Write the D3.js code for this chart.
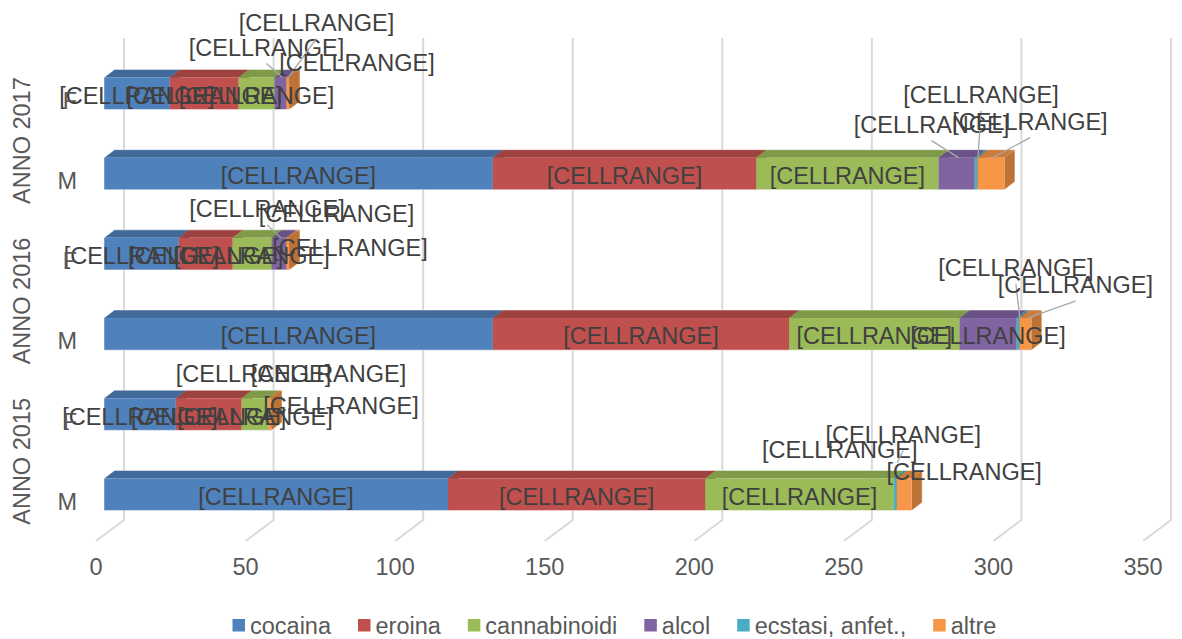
<!DOCTYPE html>
<html>
<head>
<meta charset="utf-8">
<script src="https://cdn.jsdelivr.net/npm/d3@7"></script>
<style>
  html, body { margin: 0; padding: 0; background: #ffffff; }
  svg { display: block; font-family: "Liberation Sans", Arial, sans-serif; }
</style>
</head>
<body>
<svg id="chart" width="1182" height="639"></svg>
<script>
// Categories (top to bottom): year groups, each with F and M rows
const years = ["ANNO 2017", "ANNO 2016", "ANNO 2015"];
const sexes = ["F", "M"];
const seriesNames = ["cocaina", "eroina", "cannabinoidi", "alcol", "ecstasi, anfet.,", "altre"];

// Values per row: 2017 F, 2017 M, 2016 F, 2016 M, 2015 F, 2015 M
const cocaina      = [22, 130, 25, 130, 24, 115];
const eroina       = [23,  88, 18,  99, 22,  86];
const cannabinoidi = [12,  61, 13,  57,  9,  63];
const alcol        = [ 4,  12,  5,  19,  0,   0];
const ecstasi      = [ 0,   1,  0,   1,  0,   1];
const altre        = [ 1,   9,  1,   4,  1,   5];

const xTicks = [0, 50, 100, 150, 200, 250, 300, 350];
const dataLabel = "[CELLRANGE]";

const seriesColors = ["#4f81bd", "#c0504d", "#9bbb59", "#8064a2", "#4bacc6", "#f79646"];

// Placement of the labels of the small segments: [row, series, dx, dy, leader]
// (dx, dy measured from the segment's front-top midpoint); series not listed are centred in the bar
const callouts = [
  [0, 3, -14, -30, true], [0, 4, 30, -55, true], [0, 5, 69, -15, false],
  [1, 3, -25, -33, true], [1, 4, 5, -63, true], [1, 5, 39, -36, true],
  [2, 3, -12, -29, true], [2, 4, 50, -24, false], [2, 5, 62, 10, false],
  [3, 4, -2, -50, true], [3, 5, 50, -33, true],
  [4, 3, -15, -24, false], [4, 4, 60, -24, false], [4, 5, 71, 8, false],
  [5, 3, -54, -29, false], [5, 4, 8, -44, true], [5, 5, 60, -7, false]
];

// ---- build table ----
const seriesValues = [cocaina, eroina, cannabinoidi, alcol, ecstasi, altre];
const rows = [];
years.forEach((yr, gi) => sexes.forEach((sx, si) => rows.push({ id: yr + "|" + sx, year: yr, sex: sx, index: gi * 2 + si })));
const stackInput = rows.map(r => {
  const o = { id: r.id };
  seriesNames.forEach((s, k) => o[s] = seriesValues[k][r.index]);
  return o;
});
const stacked = d3.stack().keys(seriesNames)(stackInput);

const svg = d3.select("#chart");
const fontSize = 23.5;

// front plane of the bars
const x = d3.scaleLinear().domain([0, 350]).range([104, 1151]);
const y = d3.scaleBand().domain(rows.map(r => r.id)).range([53.4, 534.6]);
const barH = y.bandwidth() * 0.4;

// oblique depth offsets
const depth = { dx: 10.5, dy: -8 };          // bar thickness
const wallShift = 20;                        // bar front -> back wall
const floorShift = { dx: -28, dy: 21 };      // back wall -> floor front
const wallTop = 38, wallBottom = 520;

function shade(c, k) { return d3.color(c).darker(k).formatHex(); }

// ---- gridlines on the back wall and floor ----
const grid = svg.append("g");
xTicks.forEach(t => {
  const xb = x(t) + wallShift;
  grid.append("path")
    .attr("d", `M${xb},${wallTop}L${xb},${wallBottom}L${xb + floorShift.dx},${wallBottom + floorShift.dy}`)
    .attr("fill", "none").attr("stroke", "#d9d9d9").attr("stroke-width", 2);
});

// ---- tick labels ----
svg.append("g").selectAll("text").data(xTicks).join("text")
  .attr("x", t => x(t) + wallShift + floorShift.dx)
  .attr("y", 567)
  .attr("dy", "0.35em")
  .attr("text-anchor", "middle")
  .attr("font-size", fontSize)
  .attr("fill", "#595959")
  .text(t => t);

// ---- 3D bars ----
const barsG = svg.append("g");
rows.forEach((r, ri) => {
  const top = y(r.id) + (y.bandwidth() - barH) / 2;
  const bot = top + barH;
  stacked.forEach((layer, k) => {
    const d = layer[ri];
    if (d[1] - d[0] <= 0) return;
    const x0 = x(d[0]), x1 = x(d[1]);
    const col = seriesColors[k];
    const g = barsG.append("g");
    // side face
    g.append("path")
      .attr("d", `M${x1},${top}L${x1 + depth.dx},${top + depth.dy}L${x1 + depth.dx},${bot + depth.dy}L${x1},${bot}Z`)
      .attr("fill", shade(col, 0.75));
    // top face
    g.append("path")
      .attr("d", `M${x0},${top}L${x0 + depth.dx},${top + depth.dy}L${x1 + depth.dx},${top + depth.dy}L${x1},${top}Z`)
      .attr("fill", shade(col, 0.55));
    // front face
    g.append("rect")
      .attr("x", x0).attr("y", top).attr("width", x1 - x0).attr("height", barH)
      .attr("fill", col);
  });
  // light rim around the bar
  const total = stacked[stacked.length - 1][ri][1];
  barsG.append("path")
    .attr("d", `M${x(0)},${bot}L${x(0)},${top}L${x(0) + depth.dx},${top + depth.dy}L${x(total) + depth.dx},${top + depth.dy}L${x(total) + depth.dx},${bot + depth.dy}L${x(total)},${bot}Z`)
    .attr("fill", "none").attr("stroke", "#ffffff").attr("stroke-opacity", 0.45).attr("stroke-width", 1);
});

// ---- data labels ----
const labelsG = svg.append("g");
const calloutKey = new Map(callouts.map(c => [c[0] + "_" + c[1], c]));
rows.forEach((r, ri) => {
  const top = y(r.id) + (y.bandwidth() - barH) / 2;
  const mid = top + barH / 2;
  stacked.forEach((layer, k) => {
    const d = layer[ri];
    const xm = (x(d[0]) + x(d[1])) / 2;
    const c = calloutKey.get(ri + "_" + k);
    let lx = xm, ly = mid + 2;
    if (c) {
      lx = xm + c[2];
      ly = top + c[3];
      if (c[4]) {
        const endY = (ri === 5) ? top - 16 : top;
        labelsG.append("line")
          .attr("x1", lx).attr("y1", ly + 16)
          .attr("x2", xm + 2).attr("y2", endY)
          .attr("stroke", "#a6a6a6").attr("stroke-width", 1.3);
      }
    }
    labelsG.append("text")
      .attr("x", lx).attr("y", ly).attr("dy", "0.35em")
      .attr("text-anchor", "middle")
      .attr("font-size", fontSize)
      .attr("fill", "#404040")
      .text(dataLabel);
  });
});

// ---- category axis ----
const catG = svg.append("g");
rows.forEach(r => {
  catG.append("text")
    .attr("x", 77).attr("y", y(r.id) + y.bandwidth() / 2 + 7).attr("dy", "0.35em")
    .attr("text-anchor", "end")
    .attr("font-size", fontSize).attr("fill", "#595959")
    .text(r.sex);
});
years.forEach(yr => {
  const cy = (y(yr + "|F") + y(yr + "|M") + y.bandwidth()) / 2 + 7;
  catG.append("text")
    .attr("transform", `translate(22,${cy}) rotate(-90)`)
    .attr("dy", "0.35em")
    .attr("text-anchor", "middle")
    .attr("font-size", fontSize).attr("fill", "#595959")
    .text(yr);
});

// ---- legend ----
const legend = svg.append("g");
let lxPos = 232.5;
seriesNames.forEach((s, k) => {
  legend.append("rect").attr("x", lxPos).attr("y", 619).attr("width", 12.5).attr("height", 12.5)
    .attr("fill", seriesColors[k]);
  const t = legend.append("text")
    .attr("x", lxPos + 17.5).attr("y", 625.5).attr("dy", "0.35em")
    .attr("font-size", fontSize).attr("fill", "#595959")
    .text(s);
  lxPos += 17.5 + t.node().getComputedTextLength() + 27;
});
</script>
</body>
</html>
